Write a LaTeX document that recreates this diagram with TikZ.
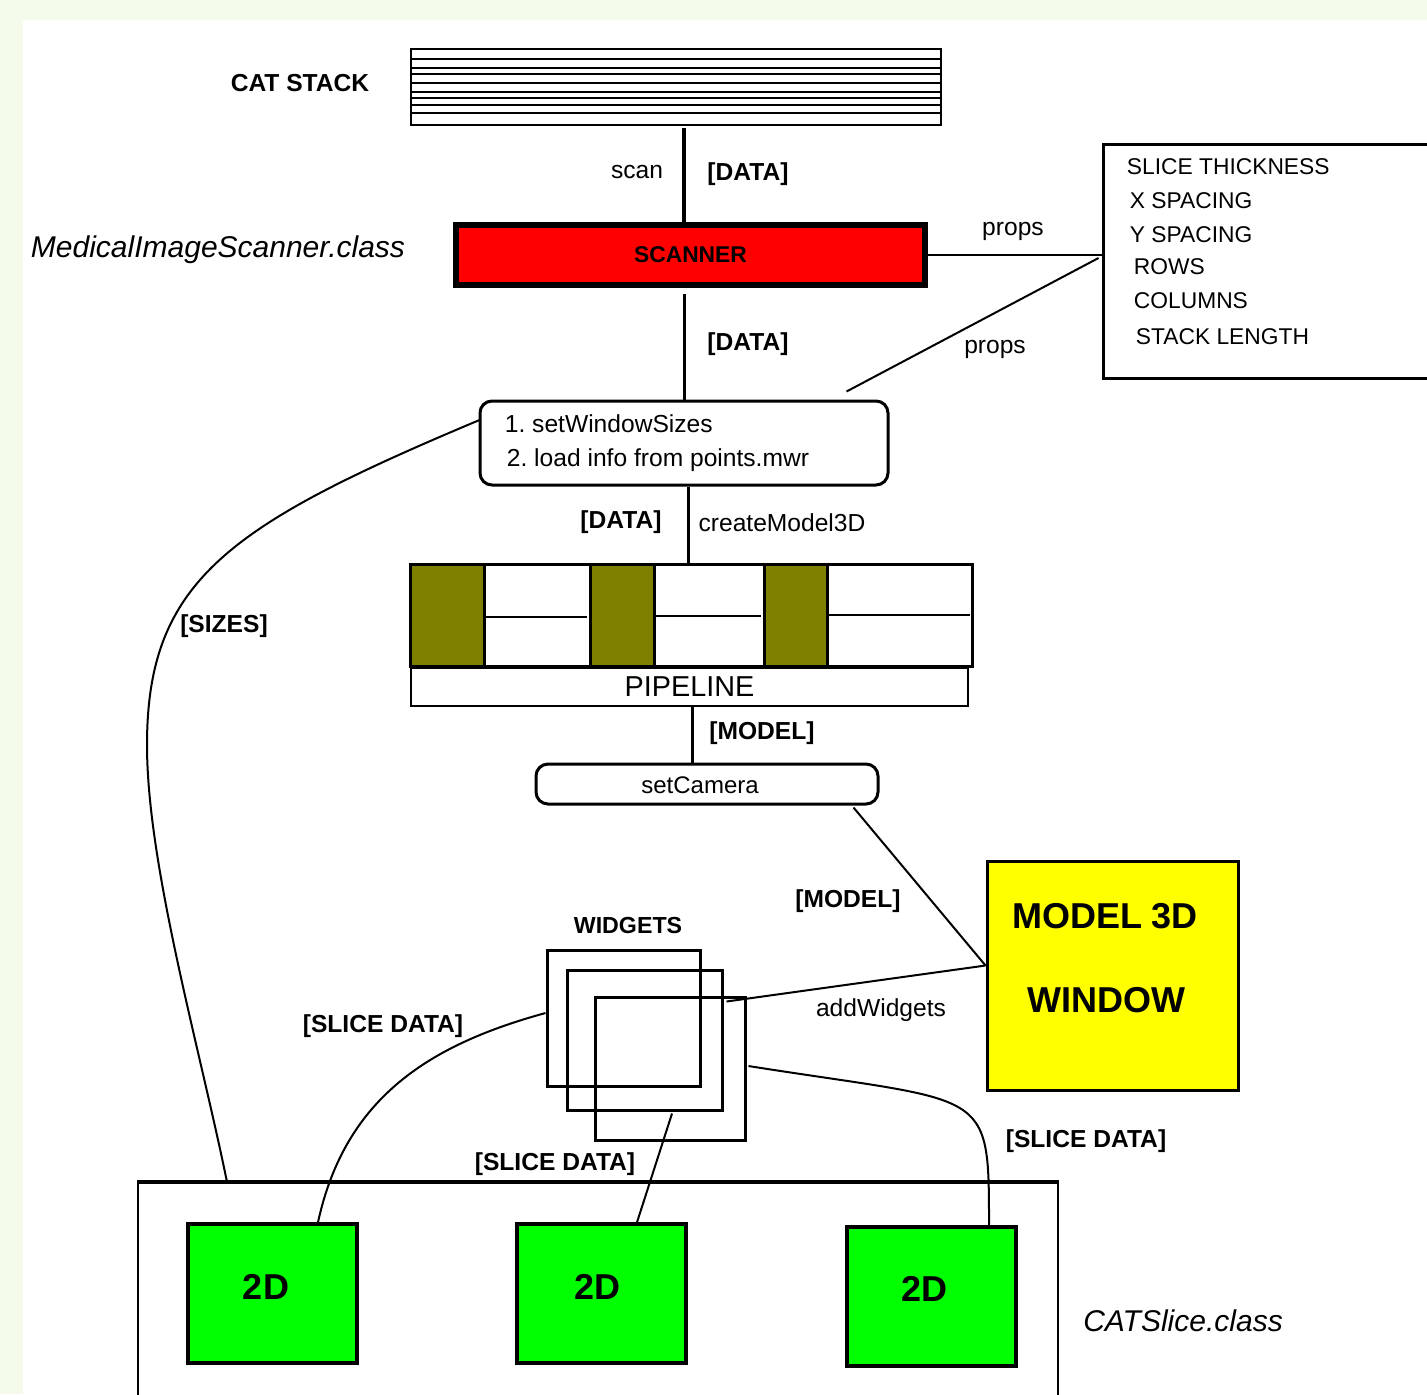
\documentclass[tikz,border=0pt]{standalone}
\usepackage{fontspec}
\setmainfont{Liberation Sans}
\usepackage{tikz}
\usetikzlibrary{calc}
\definecolor{bgGreen}{RGB}{244,251,235}
\definecolor{scanRed}{RGB}{255,0,0}
\definecolor{winYellow}{RGB}{255,255,0}
\definecolor{sliceGreen}{RGB}{0,255,0}
\definecolor{pipeOlive}{RGB}{128,128,0}
\frenchspacing

\begin{document}
\begin{tikzpicture}[x=0.5pt,y=0.5pt,yscale=-1,xscale=1,
  framebox/.style={draw, inner sep=0pt},
  boldlbl/.style={inner sep=0.75pt, font=\fontsize{12.3}{14}\selectfont\bfseries},
  plainlbl/.style={inner sep=0.75pt, font=\fontsize{12.3}{14}\selectfont},
  proplbl/.style={anchor=west, inner sep=0.75pt, font=\fontsize{11.4}{13}\selectfont},
  classlbl/.style={inner sep=0.75pt, font=\fontsize{15}{17}\selectfont\itshape},
  biglbl/.style={inner sep=0.75pt, font=\fontsize{18}{21}\selectfont\bfseries},
  slicebox/.style={framebox, line width=1.75pt, fill=sliceGreen, minimum width=84.5pt, minimum height=69.5pt},
  wire/.style={line width=1pt}]

%Background
\path[fill=bgGreen] (0,0) rectangle (1427,1394);
\path[fill=white] (23,20) rectangle (1427,1394);
\useasboundingbox (0,0) rectangle (1427,1394);

%Shape: Rectangle [cat stack]
\node (stack) at (676,87) [framebox, line width=0.75pt, minimum width=265pt, minimum height=38pt] {};
\foreach \y in {59,68,74,83,92,98,105,113}
  \draw [line width=0.9pt] (stack.west |- 0,\y) -- (stack.east |- 0,\y);

%Shape: Rectangle [scanner]
\node (scanner) at (690.5,255) [framebox, line width=3pt, fill=scanRed, minimum width=234.5pt, minimum height=30pt, font=\fontsize{11.4}{13}\selectfont\bfseries] {SCANNER};

%Shape: Rectangle [props]
\node (props) at (1267.5,261) [framebox, line width=1.5pt, minimum width=164.5pt, minimum height=117pt] {};

%Shape: Rounded Rect [window sizes]
\node (sw) at (684,443) [framebox, line width=1.5pt, rounded corners=6pt, minimum width=204pt, minimum height=42pt] {};

%Shape: Pipeline blocks
\fill [pipeOlive] (410,564) rectangle (484,666);
\fill [pipeOlive] (590,564) rectangle (654,666);
\fill [pipeOlive] (764,564) rectangle (827,666);
\foreach \x in {484,590,654,764,827}
  \draw [line width=1.5pt] (\x,564) -- (\x,666);
\draw [line width=1pt] (484,617) -- (587,617) (654,616) -- (761,616) (827,615) -- (970,615);
\node (pipe) at (691,615) [framebox, line width=1.5pt, minimum width=281pt, minimum height=51pt] {};
\node (pipelbl) at (689.5,687) [framebox, line width=0.6pt, minimum width=278.5pt, minimum height=19pt, font=\fontsize{14.4}{16}\selectfont] {PIPELINE};

%Shape: Rounded Rect [camera]
\node (cam) at (707,784) [framebox, line width=1.5pt, rounded corners=6pt, minimum width=171pt, minimum height=20pt] {};

%Shape: Rectangle [model 3d window]
\node (m3d) at (1112.5,975.5) [framebox, line width=1.5pt, fill=winYellow, minimum width=125.5pt, minimum height=114.5pt] {};

%Shape: Rectangle [widgets]
\node (w1) at (623.5,1018) [framebox, line width=1.5pt, minimum width=76.5pt, minimum height=68pt] {};
\node (w2) at (644.5,1040) [framebox, line width=1.5pt, minimum width=77.5pt, minimum height=70pt] {};
\node (w3) at (670,1068.5) [framebox, line width=1.5pt, minimum width=75pt, minimum height=71.5pt] {};

%Shape: Rectangle [slices]
\node (cont) at (598,1296.5) [framebox, line width=1pt, minimum width=460pt, minimum height=113.5pt] {};
\draw [line width=2pt] (cont.north west) -- (cont.north east);
\node (d1) at (272.5,1293.5) [slicebox] {};
\node (d2) at (601.5,1293.5) [slicebox] {};
\node (d3) at (931.5,1296.5) [slicebox] {};

%Straight Lines
\coordinate (scanTop) at ($(stack.south)+(8,2)$);
\draw [line width=2pt] (scanTop) -- (scanTop |- scanner.north);
\draw [line width=1.5pt] ($(scanner.south -| sw.north)+(0,6)$) -- (sw.north);
\coordinate (pipeIn) at ($(sw.south)+(4,0)$);
\draw [line width=1.5pt] (pipeIn) -- (pipeIn |- pipe.north);
\coordinate (camIn) at ($(pipelbl.south)+(2.5,0)$);
\draw [line width=1.5pt] (camIn) -- (camIn |- cam.north);
\draw [line width=1.2pt] (scanner.east) -- (scanner.east -| props.west);
\draw [wire] ($(props.west)+(-3,-3)$) -- ($(sw.north east)+(-43,-8)$);
\coordinate (hub) at ($(m3d.west)+(0,-10)$);
\draw [wire] ($(cam.south east)+(-26,2)$) -- (hub);
\draw [wire] ($(w3.north east)+(-20,6)$) -- (hub);
\draw [wire] ($(w2.south)+(27.5,2)$) -- ($(d2.north)+(35.5,0)$);

%Curve Lines
\coordinate (sizesBend) at (147,745);
\draw [wire] ($(sw.west)+(1,-23)$) .. controls +(-250,105) and +(0,-165) .. (sizesBend) .. controls +(0,120) and +(-27,-133) .. ($(cont.north)+(-371,0)$);
\draw [wire] ($(w1.west)+(0,-5)$) .. controls +(-117,32) and +(27,-124) .. ($(d1.north)+(45.5,0)$);
\draw [wire] ($(w3.east)+(2,-2.5)$) .. controls +(240,38) and +(0,-140) .. ($(d3.north)+(57.5,0)$);

% Text Node
\draw (300,83) node (catlbl) [boldlbl] {CAT STACK};
% Text Node
\draw (218,250) node (msclbl) [classlbl] {MedicalImageScanner.class};
% Text Node
\draw (637,172) node (scanlbl) [plainlbl] {scan};
% Text Node
\draw (748,174) node (data1) [boldlbl] {[DATA]};
% Text Node
\draw (1013,231) node (props1) [plainlbl] {props};
% Text Node
\draw (995,349) node (props2) [plainlbl] {props};
% Text Node
\draw (748,344) node (data2) [boldlbl] {[DATA]};
% Text Node
\draw (1125,167) node (pt1) [proplbl] {SLICE THICKNESS};
\draw (1128,201) node (pt2) [proplbl] {X SPACING};
\draw (1128,235) node (pt3) [proplbl] {Y SPACING};
\draw (1132,267) node (pt4) [proplbl] {ROWS};
\draw (1132,301) node (pt5) [proplbl] {COLUMNS};
\draw (1134,337) node (pt6) [proplbl] {STACK LENGTH};
% Text Node
\draw (503,424) node (sw1) [plainlbl, anchor=west] {1. setWindowSizes};
\draw (505,460) node (sw2) [plainlbl, anchor=west] {2. load info from points.mwr};
% Text Node
\draw (621,522) node (data3) [boldlbl] {[DATA]};
% Text Node
\draw (782,523) node (cm3d) [plainlbl] {createModel3D};
% Text Node
\draw (224,626) node (sizes) [boldlbl] {[SIZES]};
% Text Node
\draw (762,733) node (model1) [boldlbl] {[MODEL]};
% Text Node
\draw (700,785) node (camlbl) [plainlbl, font=\fontsize{12}{14}\selectfont] {setCamera};
% Text Node
\draw (848,901) node (model2) [boldlbl] {[MODEL]};
% Text Node
\draw (1105,916) node (m3dtop) [biglbl] {MODEL 3D};
\draw (1106,1000) node (m3dbot) [biglbl] {WINDOW};
% Text Node
\draw (628,925) node (widlbl) [boldlbl, font=\fontsize{11.6}{13}\selectfont\bfseries] {WIDGETS};
% Text Node
\draw (881,1010) node (addw) [plainlbl] {addWidgets};
% Text Node
\draw (383,1026) node (sd1) [boldlbl] {[SLICE DATA]};
\draw (555,1164) node (sd2) [boldlbl] {[SLICE DATA]};
\draw (1086,1141) node (sd3) [boldlbl] {[SLICE DATA]};
% Text Node
\draw (266,1287) node (d1lbl) [biglbl] {2D};
\draw (597,1287) node (d2lbl) [biglbl] {2D};
\draw (924,1289) node (d3lbl) [biglbl] {2D};
% Text Node
\draw (1183,1321) node (catslice) [classlbl] {CATSlice.class};

\end{tikzpicture}
\end{document}
